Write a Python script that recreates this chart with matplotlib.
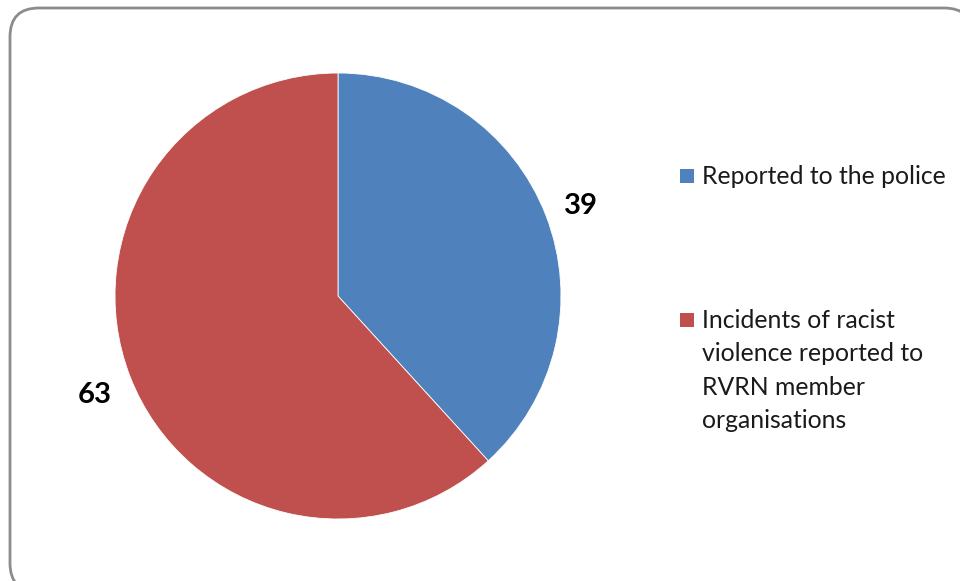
import matplotlib.pyplot as plt
from matplotlib.patches import FancyBboxPatch, Rectangle

plt.rcParams['font.family'] = ['Lato', 'DejaVu Sans']

# incident counts
labels = ['Reported to the police',
          'Incidents of racist\nviolence reported to\nRVRN member\norganisations']
values = [39, 63]
colors = ['#4F81BD', '#C0504D']

W, H = 960, 581
fig = plt.figure(figsize=(W / 100, H / 100), dpi=100)

# rounded chart frame, runs off the right and bottom edges
frame = FancyBboxPatch((10 / W, (H - 592) / H), 963 / W, 584 / H,
                       boxstyle='round,pad=0,rounding_size=0.03',
                       transform=fig.transFigure, facecolor='white',
                       edgecolor='#8c8c8c', linewidth=2, zorder=-1,
                       mutation_aspect=W / H)
fig.patches.append(frame)

cx, cy, r = 338, 296, 223
ax = fig.add_axes([(cx - r) / W, (H - cy - r) / H, 2 * r / W, 2 * r / H])
ax.patch.set_visible(False)
wedges, texts = ax.pie(values, colors=colors, startangle=90, counterclock=False,
                       labels=[str(v) for v in values], labeldistance=1.17,
                       wedgeprops=dict(linewidth=0.6, edgecolor='white'),
                       textprops=dict(fontsize=21, fontweight='bold', color='black'))
for t in texts:
    x, y = t.get_position()
    t.set_position((x, y - 0.02))
    t.set_ha('center')
    t.set_va('center')
    t.set_clip_on(False)
ax.set_xlim(-1, 1)
ax.set_ylim(-1, 1)
ax.set_aspect('equal')

# legend drawn by hand so the red key sits on the first line
leg_x = 680
leg_y = [176, 320]
for lab, col, y in zip(labels, colors, leg_y):
    fig.patches.append(Rectangle((leg_x / W, (H - y - 7) / H), 14 / W, 14 / H,
                                 transform=fig.transFigure, facecolor=col,
                                 edgecolor='none'))
    fig.text(702 / W, (H - y + 11) / H, lab, fontsize=17.8, color='#1a1a1a',
             va='top', ha='left', linespacing=1.55)

fig.savefig('out.png', dpi=100)
